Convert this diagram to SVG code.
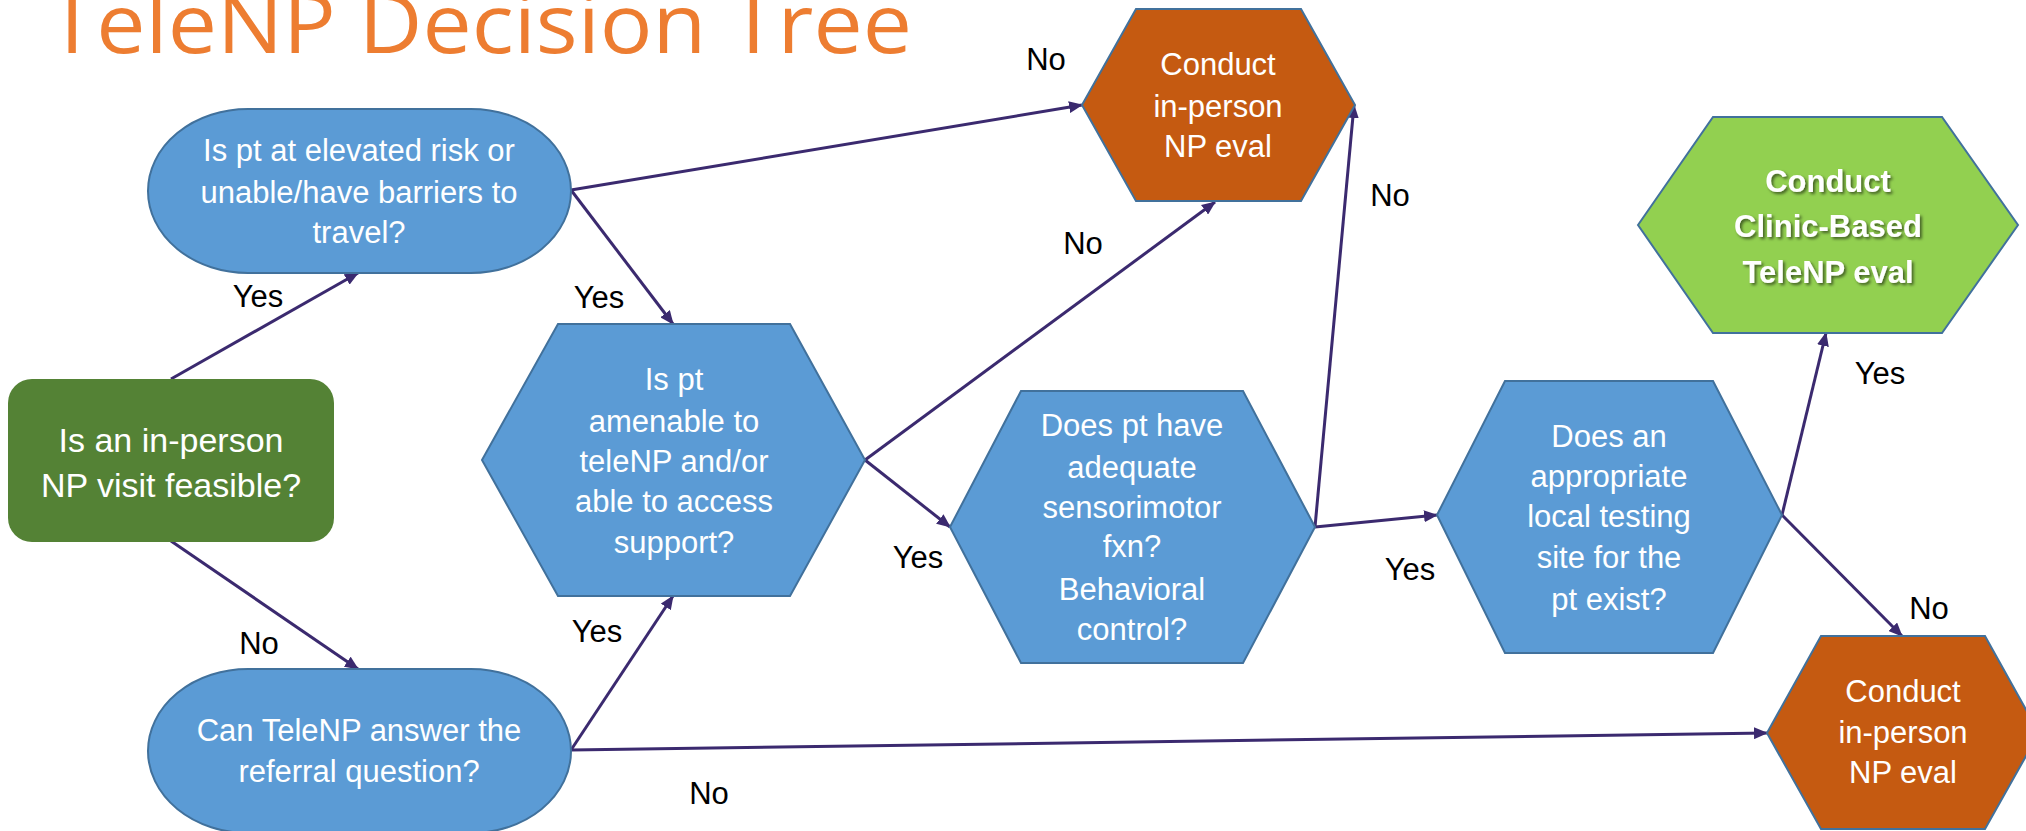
<svg xmlns="http://www.w3.org/2000/svg" width="2026" height="831" viewBox="0 0 2026 831">
  <style>
    .q { fill: #5B9BD5; stroke: #41719C; stroke-width: 2; }
    .out { fill: #C55A11; stroke: #41719C; stroke-width: 2; }
    .go { fill: #92D050; stroke: #41719C; stroke-width: 2; }
    .start { fill: #548235; }
    .t { font-family: "Liberation Sans", Arial, sans-serif; font-size: 31px; fill: #FFFFFF; text-anchor: middle; }
    .tb { font-family: "Liberation Sans", Arial, sans-serif; font-size: 31px; font-weight: bold; fill: #FFFFFF; text-anchor: middle; }
    .lbl { font-family: "Liberation Sans", Arial, sans-serif; font-size: 31px; fill: #000000; text-anchor: middle; }
    .title { font-family: "Open Sans", "Liberation Sans", sans-serif; font-size: 82px; fill: #ED7D31; }
    .edge { stroke: #3B2A6F; stroke-width: 3; fill: none; marker-end: url(#arrow); }
  </style>
  <defs>
    <marker id="arrow" viewBox="0 0 14 12" refX="13" refY="6" markerWidth="14" markerHeight="12" markerUnits="userSpaceOnUse" orient="auto">
      <path d="M0,0 L14,6 L0,12 z" fill="#3B2A6F"/>
    </marker>
    <filter id="shadow" x="-10%" y="-20%" width="130%" height="160%">
      <feDropShadow dx="2" dy="2" stdDeviation="1.5" flood-color="#000000" flood-opacity="0.55"/>
    </filter>
  </defs>

  <!-- slide title, running off the top edge -->
  <text class="title" x="48" y="53" textLength="864" lengthAdjust="spacingAndGlyphs">TeleNP Decision Tree</text>

  <!-- connectors -->
  <g id="connectors">
    <line class="edge" x1="171" y1="379" x2="358" y2="273"/>
    <line class="edge" x1="171" y1="541" x2="358" y2="669"/>
    <line class="edge" x1="571" y1="190" x2="1082" y2="105"/>
    <line class="edge" x1="571" y1="190" x2="673" y2="324"/>
    <line class="edge" x1="571" y1="750" x2="673" y2="596"/>
    <line class="edge" x1="571" y1="750" x2="1767" y2="733"/>
    <line class="edge" x1="865" y1="460" x2="1215" y2="202"/>
    <line class="edge" x1="865" y1="460" x2="950" y2="527"/>
    <line class="edge" x1="1315" y1="527" x2="1354" y2="105"/>
    <line class="edge" x1="1315" y1="527" x2="1437" y2="515"/>
    <line class="edge" x1="1782" y1="515" x2="1826" y2="333"/>
    <line class="edge" x1="1782" y1="515" x2="1902" y2="636"/>
  </g>

  <g id="edge-labels">
    <text class="lbl" x="258" y="307">Yes</text>
    <text class="lbl" x="259" y="654">No</text>
    <text class="lbl" x="1046" y="70">No</text>
    <text class="lbl" x="599" y="308">Yes</text>
    <text class="lbl" x="597" y="642">Yes</text>
    <text class="lbl" x="709" y="804">No</text>
    <text class="lbl" x="1083" y="254">No</text>
    <text class="lbl" x="918" y="568">Yes</text>
    <text class="lbl" x="1390" y="206">No</text>
    <text class="lbl" x="1410" y="580">Yes</text>
    <text class="lbl" x="1880" y="384">Yes</text>
    <text class="lbl" x="1929" y="619">No</text>
  </g>

  <!-- nodes -->
  <g id="n-feasible">
    <rect class="start" x="8" y="379" width="326" height="163" rx="24" ry="24"/>
    <text class="t" x="171" y="452" style="font-size:34px">Is an in-person</text>
    <text class="t" x="171" y="497" style="font-size:34px">NP visit feasible?</text>
  </g>

  <g id="n-risk">
    <rect class="q" x="148" y="109" width="423" height="164" rx="100" ry="82"/>
    <text class="t" x="359" y="161">Is pt at elevated risk or</text>
    <text class="t" x="359" y="203">unable/have barriers to</text>
    <text class="t" x="359" y="243">travel?</text>
  </g>

  <g id="n-referral">
    <rect class="q" x="148" y="669" width="423" height="164" rx="100" ry="82"/>
    <text class="t" x="359" y="741">Can TeleNP answer the</text>
    <text class="t" x="359" y="782">referral question?</text>
  </g>

  <g id="n-amenable">
    <polygon class="q" points="482,460 558,324 790,324 865,460 790,596 558,596"/>
    <text class="t" x="674" y="390">Is pt</text>
    <text class="t" x="674" y="432">amenable to</text>
    <text class="t" x="674" y="472">teleNP and/or</text>
    <text class="t" x="674" y="512">able to access</text>
    <text class="t" x="674" y="553">support?</text>
  </g>

  <g id="n-sensorimotor">
    <polygon class="q" points="950,527 1021,391 1243,391 1315,527 1243,663 1021,663"/>
    <text class="t" x="1132" y="436">Does pt have</text>
    <text class="t" x="1132" y="478">adequate</text>
    <text class="t" x="1132" y="518">sensorimotor</text>
    <text class="t" x="1132" y="557">fxn?</text>
    <text class="t" x="1132" y="600">Behavioral</text>
    <text class="t" x="1132" y="640">control?</text>
  </g>

  <g id="n-site">
    <polygon class="q" points="1437,515 1505,381 1713,381 1782,515 1713,653 1505,653"/>
    <text class="t" x="1609" y="447">Does an</text>
    <text class="t" x="1609" y="487">appropriate</text>
    <text class="t" x="1609" y="527">local testing</text>
    <text class="t" x="1609" y="568">site for the</text>
    <text class="t" x="1609" y="610">pt exist?</text>
  </g>

  <g id="n-inperson-top">
    <polygon class="out" points="1082,105 1136,9 1301,9 1355,105 1301,201 1136,201"/>
    <text class="t" x="1218" y="75">Conduct</text>
    <text class="t" x="1218" y="117">in-person</text>
    <text class="t" x="1218" y="157">NP eval</text>
  </g>

  <g id="n-inperson-bottom">
    <polygon class="out" points="1767,733 1821,636 1985,636 2039,733 1985,829 1821,829"/>
    <text class="t" x="1903" y="702">Conduct</text>
    <text class="t" x="1903" y="743">in-person</text>
    <text class="t" x="1903" y="783">NP eval</text>
  </g>

  <g id="n-clinic">
    <polygon class="go" points="1638,225 1713,117 1942,117 2018,225 1942,333 1713,333"/>
    <g filter="url(#shadow)">
      <text class="tb" x="1828" y="192">Conduct</text>
      <text class="tb" x="1828" y="237">Clinic-Based</text>
      <text class="tb" x="1828" y="283">TeleNP eval</text>
    </g>
  </g>
</svg>
